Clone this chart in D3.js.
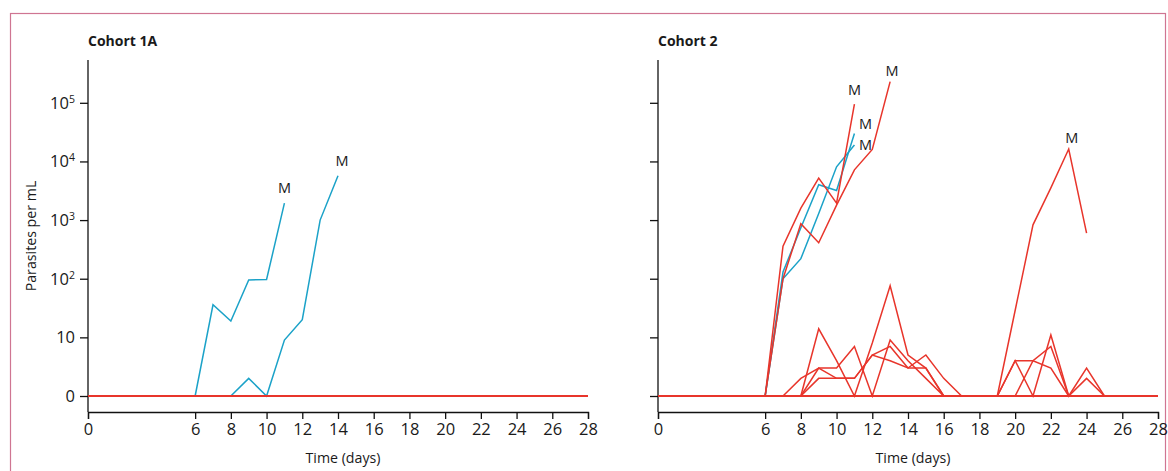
<!DOCTYPE html>
<html>
<head>
<meta charset="utf-8">
<script src="https://cdn.jsdelivr.net/npm/d3@7"></script>
<style>
  body { margin: 0; background: #fff; }
  text { font-family: "Open Sans", "Noto Sans", sans-serif; fill: #1a1a1a; }
</style>
</head>
<body>
<div id="chart-area"></div>
<script>
let width = 1168,
height = 471;

// tick values (days / parasites per mL)
let dayTicks = [0, 6, 8, 10, 12, 14, 16, 18, 20, 22, 24, 26, 28];
let parasiteTicks = [0, 10, 100, 1000, 10000, 100000];

// Cohort 1A: [day, parasites per mL]
let c1aControls = [[0, 0], [28, 0]];
let c1aBlueA = [[6, 0], [7, 36], [8, 19], [9, 95], [10, 97], [11, 1950]];
let c1aBlueB = [[8, 0], [9, 2], [10, 0], [11, 9], [12, 20], [13, 1000], [14, 5700]];

// Cohort 2
let c2Controls = [[0, 0], [28, 0]];
let c2BlueA = [[6, 0], [7, 130], [8, 740], [9, 4000], [10, 3200], [11, 30000]];
let c2BlueB = [[6, 0], [7, 100], [8, 220], [9, 1300], [10, 8100], [11, 19000]];
let c2RedA = [[6, 0], [7, 360], [8, 1600], [9, 5200], [10, 1950], [11, 95000]];
let c2RedB = [[6, 0], [7, 100], [8, 870], [9, 410], [10, 1800], [11, 7200], [12, 16000], [13, 230000]];
let c2RedLate = [[19, 0], [21, 830], [22, 3550], [23, 16300], [24, 600]];
let c2Low1 = [[8, 0], [9, 14], [10, 4], [11, 0], [12, 8], [13, 76], [14, 5], [15, 3], [16, 0]];
let c2Low2 = [[8, 0], [9, 3], [10, 3], [11, 7], [12, 0], [13, 9], [14, 4], [15, 2], [16, 0], [19, 0], [20, 4], [21, 0], [22, 11], [23, 0], [24, 2], [25, 0]];
let c2Low3 = [[7, 0], [8, 2], [9, 3], [10, 2], [11, 2], [12, 5], [13, 4], [14, 3], [15, 5], [16, 2], [17, 0], [19, 0], [20, 4], [21, 4], [22, 3], [23, 0], [24, 3], [25, 0]];
let c2Low4 = [[8, 0], [9, 2], [10, 2], [11, 2], [12, 5], [13, 7], [14, 3], [15, 3], [16, 0], [20, 0], [21, 4], [22, 7], [23, 0]];

let red = '#e8352b', blue = '#1ba2c8';

let panels = [
  { title: 'Cohort 1A', x0: 88, yLabels: true,
    series: [
      { data: c1aBlueA, color: blue, m: [0, -10] },
      { data: c1aBlueB, color: blue, m: [4, -10] },
      { data: c1aControls, color: red, width: 2 }
    ] },
  { title: 'Cohort 2', x0: 658, yLabels: false,
    series: [
      { data: c2Low1, color: red }, { data: c2Low2, color: red },
      { data: c2Low3, color: red }, { data: c2Low4, color: red },
      { data: c2BlueA, color: blue, m: [11, -4] },
      { data: c2BlueB, color: blue, m: [11, 5] },
      { data: c2RedA, color: red, m: [0, -9] },
      { data: c2RedB, color: red, m: [2, -6] },
      { data: c2RedLate, color: red, m: [3, -6] },
      { data: c2Controls, color: red, width: 2 }
    ] }
];

let svg = d3.select('#chart-area').append('svg')
  .attr('width', width)
  .attr('height', height);

// frame
svg.append('rect')
  .attr('x', 10.5).attr('y', 13.5)
  .attr('width', 1155).attr('height', 480)
  .attr('fill', 'none')
  .attr('stroke', '#cf7592')
  .attr('stroke-width', 1.2);

let y = d3.scaleLog().domain([1, Math.pow(10, 5.73)]).range([396, 60]);
let yv = v => y(Math.max(v, 1));
let axisY = 412;

panels.forEach(p => {
  let x = d3.scaleLinear().domain([0, 28]).range([p.x0, p.x0 + 500]);
  let g = svg.append('g');

  g.append('text')
    .attr('x', p.x0).attr('y', 46)
    .attr('font-size', 14).attr('font-weight', 700)
    .text(p.title);

  // x axis
  let xa = g.append('g')
    .attr('transform', 'translate(0,' + axisY + ')')
    .call(d3.axisBottom(x).tickValues(dayTicks).tickSizeOuter(0).tickSize(7).tickPadding(4));
  xa.select('.domain').attr('stroke', '#111').attr('stroke-width', 1.3);
  xa.selectAll('.tick line').attr('stroke', '#111').attr('stroke-width', 1.3);
  xa.selectAll('.tick text').attr('font-size', 16.5).attr('fill', '#1a1a1a')
    .style('font-family', '"Open Sans", sans-serif');

  g.append('text')
    .attr('x', p.x0 + 255).attr('y', 463)
    .attr('text-anchor', 'middle').attr('font-size', 14.2)
    .text('Time (days)');

  // y axis
  let ya = g.append('g')
    .attr('transform', 'translate(' + p.x0 + ',0)')
    .call(d3.axisLeft(y).tickValues(parasiteTicks.map(v => Math.max(v, 1))).tickSize(8).tickPadding(5)
      .tickFormat(() => ''));
  ya.select('.domain').remove();
  ya.selectAll('.tick line').attr('stroke', '#111').attr('stroke-width', 1.3);
  g.append('line')
    .attr('x1', p.x0).attr('x2', p.x0)
    .attr('y1', 60).attr('y2', axisY)
    .attr('stroke', '#111').attr('stroke-width', 1.3);

  if (p.yLabels) {
    ya.selectAll('.tick text').each(function(d, i) {
      let t = d3.select(this)
        .attr('font-size', 16.5).attr('fill', '#1a1a1a')
        .style('font-family', '"Open Sans", sans-serif');
      let v = parasiteTicks[i];
      if (v < 100) {
        t.text(String(v));
      } else {
        t.text('10');
        t.append('tspan').attr('dy', -6).attr('font-size', 10.5)
          .text(String(Math.round(Math.log10(v))));
      }
    });
    g.append('text')
      .attr('transform', 'translate(36,236) rotate(-90)')
      .attr('text-anchor', 'middle').attr('font-size', 14.2)
      .text('Parasites per mL');
  }

  let line = d3.line().x(d => x(d[0])).y(d => yv(d[1]));

  p.series.forEach(s => {
    g.append('path')
      .datum(s.data)
      .attr('d', line)
      .attr('fill', 'none')
      .attr('stroke', s.color)
      .attr('stroke-width', s.width || 1.5)
      .attr('stroke-linejoin', 'miter');
    if (s.m) {
      let top = s.data.reduce((a, b) => (b[1] > a[1] ? b : a));
      g.append('text')
        .attr('x', x(top[0]) + s.m[0])
        .attr('y', yv(top[1]) + s.m[1])
        .attr('text-anchor', 'middle').attr('font-size', 14.5)
        .text('M');
    }
  });
});
</script>
</body>
</html>
